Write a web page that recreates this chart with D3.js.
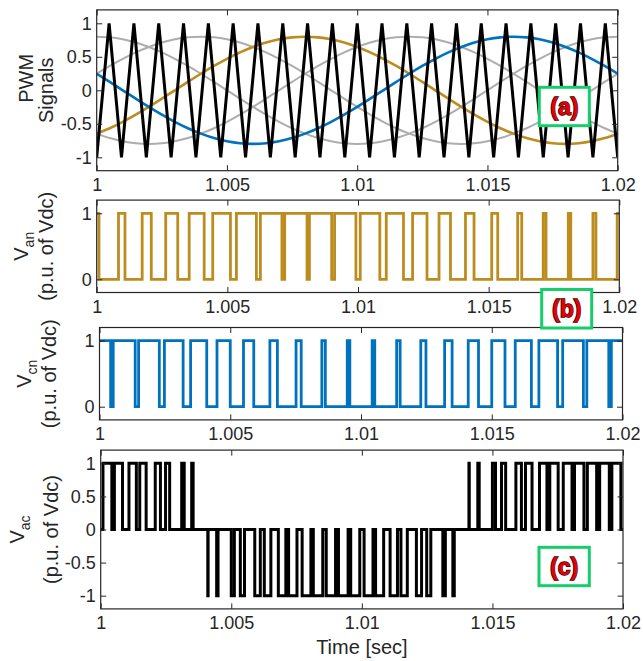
<!DOCTYPE html>
<html>
<head>
<meta charset="utf-8">
<script src="https://cdn.jsdelivr.net/npm/d3@7"></script>
<style>
  body { margin: 0; background: #fff; }
  svg text { font-family: "Liberation Sans", Arial, sans-serif; }
</style>
</head>
<body>
<svg id="chart" width="643" height="661"></svg>
<script>
// ---- time axis (seconds) ----
const xTicks = [1, 1.005, 1.01, 1.015, 1.02];
const xTickLabels = ["1", "1.005", "1.01", "1.015", "1.02"];

// ---- reference waveforms, sampled every 0.5 ms from t = 1 s ----
const refT = [0, 0.5, 1, 1.5, 2, 2.5, 3, 3.5, 4, 4.5, 5, 5.5, 6, 6.5, 7, 7.5, 8, 8.5, 9, 9.5,
  10, 10.5, 11, 11.5, 12, 12.5, 13, 13.5, 14, 14.5, 15, 15.5, 16, 16.5, 17, 17.5, 18, 18.5, 19, 19.5, 20];
const refA = [-0.647, -0.566, -0.47, -0.363, -0.247, -0.125, 0, 0.125, 0.247, 0.363, 0.47, 0.566, 0.647, 0.713, 0.761, 0.79,
  0.8, 0.79, 0.761, 0.713, 0.647, 0.566, 0.47, 0.363, 0.247, 0.125, 0, -0.125, -0.247, -0.363, -0.47, -0.566, -0.647,
  -0.713, -0.761, -0.79, -0.8, -0.79, -0.761, -0.713, -0.647];
const refC = [0.247, 0.125, 0, -0.125, -0.247, -0.363, -0.47, -0.566, -0.647, -0.713, -0.761, -0.79, -0.8, -0.79, -0.761,
  -0.713, -0.647, -0.566, -0.47, -0.363, -0.247, -0.125, 0, 0.125, 0.247, 0.363, 0.47, 0.566, 0.647, 0.713, 0.761, 0.79,
  0.8, 0.79, 0.761, 0.713, 0.647, 0.566, 0.47, 0.363, 0.247];
const refGray1 = [0.8, 0.79, 0.761, 0.713, 0.647, 0.566, 0.47, 0.363, 0.247, 0.125, 0, -0.125, -0.247, -0.363, -0.47, -0.566,
  -0.647, -0.713, -0.761, -0.79, -0.8, -0.79, -0.761, -0.713, -0.647, -0.566, -0.47, -0.363, -0.247, -0.125, 0, 0.125,
  0.247, 0.363, 0.47, 0.566, 0.647, 0.713, 0.761, 0.79, 0.8];
const refGray2 = [0.247, 0.363, 0.47, 0.566, 0.647, 0.713, 0.761, 0.79, 0.8, 0.79, 0.761, 0.713, 0.647, 0.566, 0.47, 0.363,
  0.247, 0.125, 0, -0.125, -0.247, -0.363, -0.47, -0.566, -0.647, -0.713, -0.761, -0.79, -0.8, -0.79, -0.761, -0.713,
  -0.647, -0.566, -0.47, -0.363, -0.247, -0.125, 0, 0.125, 0.247];
const refGray3 = [-0.647, -0.713, -0.761, -0.79, -0.8, -0.79, -0.761, -0.713, -0.647, -0.566, -0.47, -0.363, -0.247, -0.125,
  0, 0.125, 0.247, 0.363, 0.47, 0.566, 0.647, 0.713, 0.761, 0.79, 0.8, 0.79, 0.761, 0.713, 0.647, 0.566, 0.47, 0.363,
  0.247, 0.125, 0, -0.125, -0.247, -0.363, -0.47, -0.566, -0.647];

// ---- triangular carrier: vertex times (ms) and levels ----
const carrierT = [0, 0.476, 0.952, 1.429, 1.905, 2.381, 2.857, 3.333, 3.81, 4.286, 4.762, 5.238, 5.714, 6.19, 6.667,
  7.143, 7.619, 8.095, 8.571, 9.048, 9.524, 10, 10.476, 10.952, 11.429, 11.905, 12.381, 12.857, 13.333, 13.81, 14.286,
  14.762, 15.238, 15.714, 16.19, 16.667, 17.143, 17.619, 18.095, 18.571, 19.048, 19.524, 20];
const carrierV = [-1, 1, -1, 1, -1, 1, -1, 1, -1, 1, -1, 1, -1, 1, -1, 1, -1, 1, -1, 1, -1, 1,
  -1, 1, -1, 1, -1, 1, -1, 1, -1, 1, -1, 1, -1, 1, -1, 1, -1, 1, -1, 1, -1];

// ---- switched phase outputs: intervals (ms) where the leg is at 1 ----
const vanHigh = [[0, 0.0871], [0.8341, 1.0825], [1.7402, 2.0889], [2.6406, 3.1012], [3.5392, 4.1131],
  [4.4401, 5.1182], [5.3472, 6.1114], [6.2644, 7.0891], [7.1949, 8.0493], [8.1413, 8.9924], [9.1051, 9.9201],
  [10.086, 10.8349], [11.0819, 11.7405], [12.0889, 12.6406], [13.1013, 13.5393], [14.113, 14.4404],
  [15.1177, 15.348], [16.1103, 16.2657], [17.0875, 17.1965], [18.0476, 18.143], [18.9908, 19.1067], [19.9189, 20]];
const vcnHigh = [[0, 0.4268], [0.5247, 1.3652], [1.4955, 2.2874], [2.4827, 3.1981], [3.4837, 4.101],
  [4.4936, 5.0], [5.5065, 5.8992], [6.516, 6.8025], [7.5164, 7.7137], [8.5032, 8.6363], [9.4737, 9.5731],
  [10.4269, 10.5263], [11.3638, 11.4968], [12.2863, 12.4836], [13.1975, 13.484], [14.1008, 14.4935],
  [15.0, 15.5064], [15.899, 16.5163], [16.8019, 17.5173], [17.7126, 18.5045], [18.6348, 19.4753], [19.5732, 20]];

// ---- line-to-line output: step start times (ms) and levels ----
const vacT = [0, 0.0871, 0.4268, 0.5247, 0.8341, 1.0825, 1.3652, 1.4955, 1.7402, 2.0889, 2.2874, 2.4827, 2.6406,
  3.1012, 3.1981, 3.4837, 3.5392, 4.101, 4.1131, 4.4401, 4.4936, 5.0, 5.1182, 5.3472, 5.5065, 5.8992, 6.1114,
  6.2644, 6.516, 6.8025, 7.0891, 7.1949, 7.5164, 7.7137, 8.0493, 8.1413, 8.5032, 8.6363, 8.9924, 9.1051, 9.4737,
  9.5731, 9.9201, 10.086, 10.4269, 10.5263, 10.8349, 11.0819, 11.3638, 11.4968, 11.7405, 12.0889, 12.2863,
  12.4836, 12.6406, 13.1013, 13.1975, 13.484, 13.5393, 14.1008, 14.113, 14.4404, 14.4935, 15.0, 15.1177, 15.348,
  15.5064, 15.899, 16.1103, 16.2657, 16.5163, 16.8019, 17.0875, 17.1965, 17.5173, 17.7126, 18.0476, 18.143,
  18.5045, 18.6348, 18.9908, 19.1067, 19.4753, 19.5732, 19.9189, 20];
const vacV = [0, 1, 0, 1, 0, 1, 0, 1, 0, 1, 0, 1, 0, 1, 0, 1, 0,
  -1, 0, -1, 0, -1, 0, -1, 0, -1, 0, -1, 0, -1, 0, -1, 0, -1, 0, -1, 0, -1, 0, -1, 0,
  -1, 0, -1, 0, -1, 0, -1, 0, -1, 0, -1, 0, -1, 0, -1, 0, -1,
  0,
  1, 0, 1, 0, 1, 0, 1, 0, 1, 0, 1, 0, 1, 0, 1, 0, 1, 0, 1, 0, 1, 0, 1, 0, 1,
  0, 0];

// ---- styling ----
const AXIS = "#262626";
const GOLD = "#BD8C1F";
const BLUE = "#0072BD";
const GRAY = "#ADADAD";
const TAG_GREEN = "#17CC6B";
const TICK_FONT = 18;
const LABEL_FONT = 20;

const svg = d3.select("#chart");
const toSec = ms => 1 + ms / 1000;

const panels = [
  { id: "pwm", x0: 96.7, x1: 617.7, y0: 9.9, y1: 170.7, yDomain: [-1.2, 1.2],
    yTicks: [-1, -0.5, 0, 0.5, 1], yTickLabels: ["-1", "-0.5", "0", "0.5", "1"],
    label: [{ text: "PWM", x: 33, dy: -12 }, { text: "Signals", x: 53, dy: 0 }] },
  { id: "van", x0: 96.7, x1: 619.3, y0: 200.1, y1: 292.5, yDomain: [-0.2, 1.2],
    yTicks: [0, 1], yTickLabels: ["0", "1"],
    label: [{ text: "V", sub: "an", x: 28, dy: 0 }, { text: "(p.u. of Vdc)", x: 53, dy: 0 }] },
  { id: "vcn", x0: 99.5, x1: 622.5, y0: 327.5, y1: 419.9, yDomain: [-0.2, 1.2],
    yTicks: [0, 1], yTickLabels: ["0", "1"],
    label: [{ text: "V", sub: "cn", x: 31, dy: 0 }, { text: "(p.u. of Vdc)", x: 56, dy: 0 }] },
  { id: "vac", x0: 100.7, x1: 623, y0: 450.1, y1: 608.9, yDomain: [-1.2, 1.2],
    yTicks: [-1, -0.5, 0, 0.5, 1], yTickLabels: ["-1", "-0.5", "0", "0.5", "1"],
    label: [{ text: "V", sub: "ac", x: 24, dy: 0 }, { text: "(p.u. of Vdc)", x: 58, dy: 0 }] }
];

function styleAxis(sel) {
  sel.select(".domain").remove();
  sel.selectAll(".tick line").attr("stroke", AXIS).attr("stroke-width", 1);
  sel.selectAll(".tick text").attr("fill", AXIS).attr("font-size", TICK_FONT)
    .attr("font-family", '"Liberation Sans", Arial, sans-serif');
}

function stepPoints(intervals) {
  const pts = [];
  if (intervals[0][0] > 0) pts.push([0, 0]);
  intervals.forEach(([s, e]) => {
    if (s > 0) pts.push([s, 0]);
    pts.push([s, 1]);
    pts.push([e, 1]);
    if (e < 20) pts.push([e, 0]);
  });
  if (intervals[intervals.length - 1][1] < 20) pts.push([20, 0]);
  return pts;
}

const scales = {};
panels.forEach(p => {
  const x = d3.scaleLinear().domain([1, 1.02]).range([p.x0, p.x1]);
  const y = d3.scaleLinear().domain(p.yDomain).range([p.y1, p.y0]);
  scales[p.id] = { x, y };
  const g = svg.append("g").attr("class", "panel-" + p.id);

  g.append("clipPath").attr("id", "clip-" + p.id)
    .append("rect").attr("x", p.x0).attr("y", p.y0)
    .attr("width", p.x1 - p.x0).attr("height", p.y1 - p.y0);

  p.plot = g.append("g").attr("clip-path", `url(#clip-${p.id})`);

  // axes with inward ticks on all four sides
  g.append("g").attr("transform", `translate(0,${p.y1})`)
    .call(d3.axisBottom(x).tickValues(xTicks).tickFormat((d, i) => xTickLabels[i])
      .tickSizeInner(-5.5).tickSizeOuter(0).tickPadding(7.6))
    .call(styleAxis);
  g.append("g").attr("transform", `translate(0,${p.y0})`)
    .call(d3.axisTop(x).tickValues(xTicks).tickFormat(() => "")
      .tickSizeInner(-5.5).tickSizeOuter(0))
    .call(styleAxis);
  g.append("g").attr("transform", `translate(${p.x0},0)`)
    .call(d3.axisLeft(y).tickValues(p.yTicks).tickFormat((d, i) => p.yTickLabels[i])
      .tickSizeInner(-5.5).tickSizeOuter(0).tickPadding(5))
    .call(styleAxis);
  g.append("g").attr("transform", `translate(${p.x1},0)`)
    .call(d3.axisRight(y).tickValues(p.yTicks).tickFormat(() => "")
      .tickSizeInner(-5.5).tickSizeOuter(0))
    .call(styleAxis);

  p.boxLayer = g;

  // two-line rotated y label
  const cy = (p.y0 + p.y1) / 2;
  p.label.forEach(l => {
    const t = g.append("text")
      .attr("transform", `translate(${l.x},${cy + l.dy}) rotate(-90)`)
      .attr("text-anchor", "middle")
      .attr("font-size", LABEL_FONT)
      .attr("fill", AXIS)
      .text(l.text);
    if (l.sub) {
      t.append("tspan").attr("font-size", LABEL_FONT * 0.7).attr("dy", 6).text(l.sub);
    }
  });
});

// ---- (a) PWM references and carrier ----
{
  const { x, y } = scales.pwm;
  const plot = panels[0].plot;
  const line = d3.line().x(d => x(toSec(d[0]))).y(d => y(d[1])).curve(d3.curveCatmullRom);
  const series = (vals) => refT.map((t, i) => [t, vals[i]]);
  [refGray1, refGray2, refGray3].forEach(vals => {
    plot.append("path").attr("d", line(series(vals)))
      .attr("fill", "none").attr("stroke", GRAY).attr("stroke-width", 2);
  });
  plot.append("path").attr("d", line(series(refA)))
    .attr("fill", "none").attr("stroke", GOLD).attr("stroke-width", 2.6);
  plot.append("path").attr("d", line(series(refC)))
    .attr("fill", "none").attr("stroke", BLUE).attr("stroke-width", 2.6);
  const cLine = d3.line().x(d => x(toSec(d[0]))).y(d => y(d[1]));
  plot.append("path").attr("d", cLine(carrierT.map((t, i) => [t, carrierV[i]])))
    .attr("fill", "none").attr("stroke", "#000").attr("stroke-width", 3)
    .attr("stroke-linejoin", "miter").attr("stroke-miterlimit", 4);
}

// ---- (b) phase a, (c) phase c ----
[["van", vanHigh, GOLD, 1], ["vcn", vcnHigh, BLUE, 2]].forEach(([id, iv, col, idx]) => {
  const { x, y } = scales[id];
  const line = d3.line().x(d => x(toSec(d[0]))).y(d => y(d[1]));
  panels[idx].plot.append("path").attr("d", line(stepPoints(iv)))
    .attr("fill", "none").attr("stroke", col).attr("stroke-width", 2.8);
});

// ---- (d) line-to-line ----
{
  const { x, y } = scales.vac;
  const line = d3.line().x(d => x(toSec(d[0]))).y(d => y(d[1])).curve(d3.curveStepAfter);
  const pts = vacT.map((t, i) => [t, vacV[i]]);
  panels[3].plot.append("path").attr("d", line(pts))
    .attr("fill", "none").attr("stroke", "#000").attr("stroke-width", 3);
}

// ---- axes boxes on top ----
panels.forEach(p => {
  p.boxLayer.append("rect").attr("x", p.x0).attr("y", p.y0)
    .attr("width", p.x1 - p.x0).attr("height", p.y1 - p.y0)
    .attr("fill", "none").attr("stroke", AXIS).attr("stroke-width", 1.2);
});

// ---- x label ----
svg.append("text").attr("x", 361.9).attr("y", 654).attr("text-anchor", "middle")
  .attr("font-size", LABEL_FONT).attr("fill", AXIS).text("Time [sec]");

// ---- panel tags ----
const tags = [
  { text: "(a)", x: 539.3, y: 87.3, w: 50, h: 38.4 },
  { text: "(b)", x: 541.7, y: 289.5, w: 50, h: 38.5 },
  { text: "(c)", x: 539, y: 547.3, w: 50.3, h: 38.4 }
];
tags.forEach(t => {
  svg.append("rect").attr("x", t.x).attr("y", t.y).attr("width", t.w).attr("height", t.h)
    .attr("fill", "#fff").attr("stroke", TAG_GREEN).attr("stroke-width", 3);
  svg.append("text").attr("x", t.x + t.w / 2).attr("y", t.y + t.h / 2 + 8)
    .attr("text-anchor", "middle").attr("font-size", 23).attr("font-weight", "bold")
    .attr("fill", "#E80000").attr("stroke", "#300000").attr("stroke-width", 1.4)
    .attr("paint-order", "stroke").text(t.text);
});
</script>
</body>
</html>
